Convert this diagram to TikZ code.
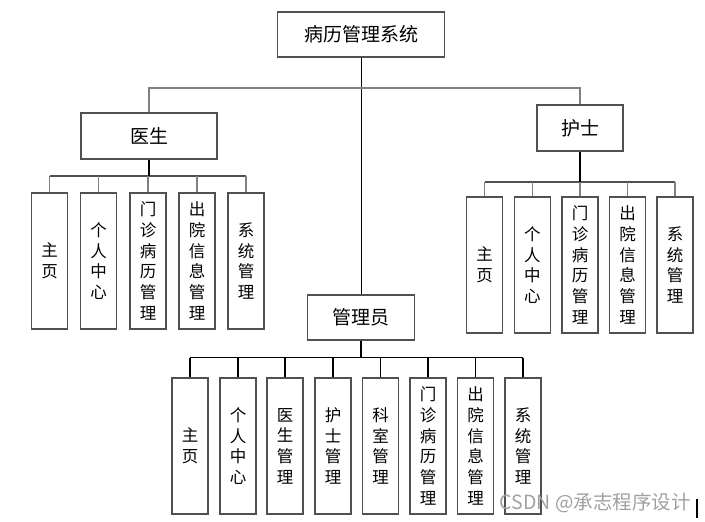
\documentclass[tikz,border=0pt]{standalone}
\usepackage{fontspec}
\setmainfont{Noto Sans CJK SC}
\definecolor{boxc}{RGB}{80,80,80}
\definecolor{linec}{RGB}{128,128,128}
\definecolor{wmc}{RGB}{160,160,160}
\begin{document}
\begin{tikzpicture}[x=1pt,y=-1pt,
  box/.style={draw=boxc,line width=1.3pt,inner sep=0pt,font=\fontsize{19}{22}\selectfont},
  leaf/.style={draw=boxc,line width=1.3pt,minimum width=36pt,minimum height=136pt,inner sep=0pt,align=center,font=\fontsize{16.5}{20.7}\selectfont},
  gline/.style={draw=linec,line width=1.8pt},
  stem/.style={draw=black,line width=2pt},
  mainline/.style={draw=black,line width=1pt},
  busline/.style={draw=boxc,line width=1.6pt},
  drop/.style={draw=linec,line width=1.1pt},
  abus/.style={draw=black,line width=1.6pt},
  adrop/.style={draw=black,line width=1.1pt}]
\useasboundingbox (0,0) rectangle (705,522);

% top level
\node[box,minimum width=167pt,minimum height=45pt] (root) at (361,34.5) {病历管理系统};
\node[box,minimum width=136pt,minimum height=46pt] (doc) at (149,136) {医生};
\node[box,minimum width=86pt,minimum height=46pt] (nur) at (580,128) {护士};
\node[box,minimum width=107pt,minimum height=45pt] (adm) at (361,317.5) {管理员};

% doctor leaves
\node[leaf] (d1) at (49.7,261) {主\\页};
\node[leaf] (d2) at (98.7,261) {个\\人\\中\\心};
\node[leaf] (d3) at (148,261) {门\\诊\\病\\历\\管\\理};
\node[leaf] (d4) at (197,261) {出\\院\\信\\息\\管\\理};
\node[leaf] (d5) at (246,261) {系\\统\\管\\理};

% nurse leaves
\node[leaf] (n1) at (484.7,265) {主\\页};
\node[leaf] (n2) at (532.3,265) {个\\人\\中\\心};
\node[leaf] (n3) at (580,265) {门\\诊\\病\\历\\管\\理};
\node[leaf] (n4) at (627.7,265) {出\\院\\信\\息\\管\\理};
\node[leaf] (n5) at (675,265) {系\\统\\管\\理};

% admin leaves
\node[leaf] (a1) at (190,446) {主\\页};
\node[leaf] (a2) at (238,446) {个\\人\\中\\心};
\node[leaf] (a3) at (285,446) {医\\生\\管\\理};
\node[leaf] (a4) at (333,446) {护\\士\\管\\理};
\node[leaf] (a5) at (380.5,446) {科\\室\\管\\理};
\node[leaf] (a6) at (428,446) {门\\诊\\病\\历\\管\\理};
\node[leaf] (a7) at (475.7,446) {出\\院\\信\\息\\管\\理};
\node[leaf] (a8) at (523,446) {系\\统\\管\\理};

% bus levels
\coordinate (tb) at (0,88);
\coordinate (dbus) at (0,176);
\coordinate (nbus) at (0,182);
\coordinate (abusy) at (0,357.5);

% main connectors
\draw[mainline] (root.south) -- (adm.north);
\draw[gline] (doc.north) -- (doc.north |- tb) -| (nur.north);

% doctor tree
\draw[busline] (d1.north |- dbus) -- (d5.north |- dbus);
\foreach \i in {1,...,5} \draw[drop] (d\i.north) -- (d\i.north |- dbus);
\draw[stem] (doc.south) -- (doc.south |- dbus);

% nurse tree
\draw[busline] (n1.north |- nbus) -- (n5.north |- nbus);
\foreach \i in {1,...,5} \draw[drop] (n\i.north) -- (n\i.north |- nbus);
\draw[stem] (nur.south) -- (nur.south |- nbus);

% admin tree
\draw[abus] (a1.north |- abusy) -- (a8.north |- abusy);
\foreach \i in {1,...,8} \draw[adrop] (a\i.north) -- (a\i.north |- abusy);
\draw[stem] (adm.south) -- (adm.south |- abusy);

% watermark and cursor
\node[anchor=east,inner sep=0pt,text=wmc,font=\fontsize{19.5}{19.5}\selectfont] (wm) at (691,503) {CSDN @承志程序设计};
\coordinate (c1) at (697,499);
\coordinate (c2) at (697,518);
\draw[line width=2pt] (c1) -- (c2);
\end{tikzpicture}
\end{document}
